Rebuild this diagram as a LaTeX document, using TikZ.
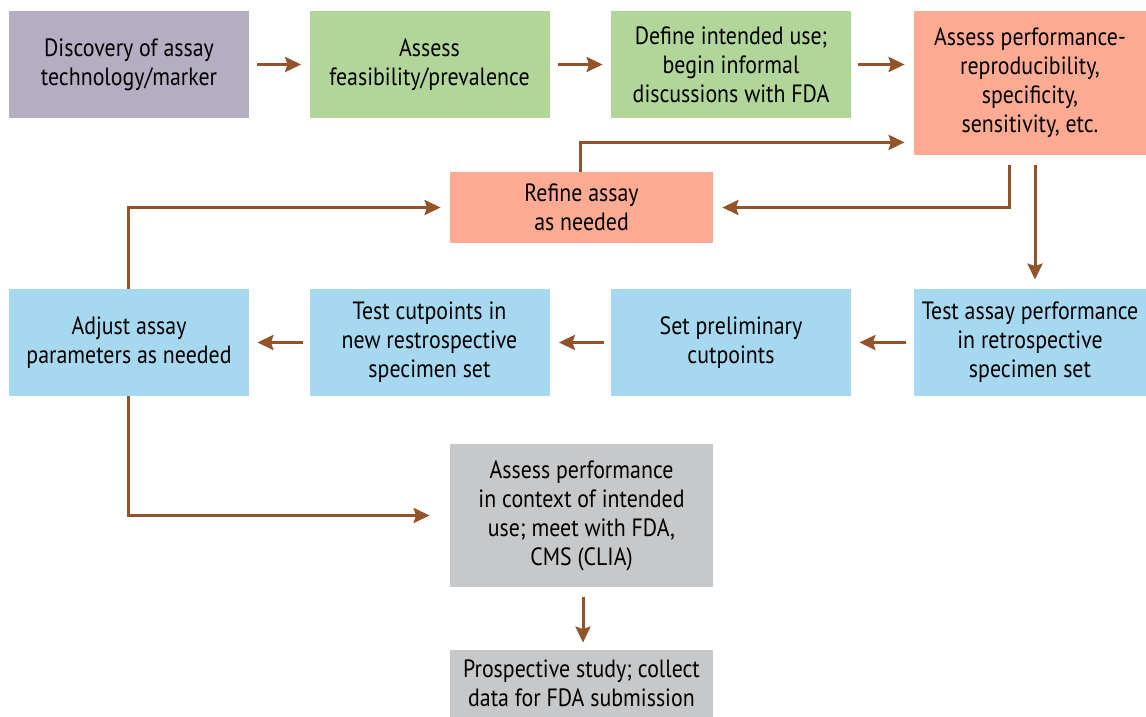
\documentclass[tikz,border=0pt]{standalone}
\usepackage{fontspec}
\setmainfont{PT Sans}[FakeStretch=0.875]
\usepackage{tikz}
\usetikzlibrary{arrows.meta,positioning}

\definecolor{discfill}{HTML}{B5AEC3}
\definecolor{feasfill}{HTML}{B2D69A}
\definecolor{perffill}{HTML}{FFAA93}
\definecolor{testfill}{HTML}{A6D8F0}
\definecolor{usefill}{HTML}{C7C8CA}
\definecolor{arrbrown}{HTML}{93542C}

\begin{document}
\begin{tikzpicture}[
  x=0.5pt, y=-0.5pt,
  box/.style={align=center, inner sep=3pt, minimum height=53.5pt,
    font=\fontsize{12.5pt}{14.5pt}\selectfont},
  wide/.style={box, minimum width=120pt},
  arr/.style={-{Stealth[length=8pt, width=7.5pt, inset=1.2pt]}, line width=1.5pt, color=arrbrown}
]
\useasboundingbox (0,0) rectangle (1146,717);

\node[wide, fill=discfill] (disc) at (129,64.5) {Discovery of assay\\technology/marker};
\node[wide, fill=feasfill] (feas) at (429.5,64.5) {Assess\\feasibility/prevalence};
\node[wide, fill=feasfill] (intd) at (731,64.5) {Define intended use;\\begin informal\\discussions with FDA};
\node[box, fill=perffill, minimum width=116pt, minimum height=72pt] (perf) at (1030,83) {Assess performance-\\reproducibility,\\specificity,\\sensitivity, etc.};
\node[box, fill=perffill, minimum width=131.5pt, minimum height=35.5pt] (refn) at (581.5,207.5) {Refine assay\\as needed};

\node[wide, fill=testfill] (adj) at (129,342.5) {Adjust assay\\parameters as needed};
\node[wide, fill=testfill] (cutn) at (429.5,342.5) {Test cutpoints in\\new restrospective\\specimen set};
\node[wide, fill=testfill] (prel) at (731,342.5) {Set preliminary\\cutpoints};
\node[box, fill=testfill, minimum width=116pt] (retr) at (1030,342.5) {Test assay performance\\in retrospective\\specimen set};

\node[box, fill=usefill, minimum width=131.5pt, minimum height=71.5pt] (ctx) at (581.5,515.5) {Assess performance\\in context of intended\\use; meet with FDA,\\CMS (CLIA)};
\node[box, fill=usefill, minimum width=131.5pt, minimum height=33.5pt] (pros) at (581.5,683.5) {Prospective study; collect\\data for FDA submission};

% top row
\draw[arr, shorten <=4pt, shorten >=4pt] (disc) -- (feas);
\draw[arr, shorten <=4pt, shorten >=4pt] (feas) -- (intd);
\draw[arr, shorten <=3.5pt, shorten >=4.5pt] (intd) -- (intd -| perf.west);

% refine loop
\draw[arr, shorten >=4.5pt] ([xshift=-0.75pt]refn.north) |- ([yshift=6.5pt]perf.south west);
\draw[arr, shorten >=4.5pt] ([xshift=-10.5pt,yshift=-5pt]perf.south) |- (refn.east);
\draw[arr, shorten >=4.5pt] ([xshift=2.5pt,yshift=-5pt]perf.south) -- ([xshift=2.5pt]retr.north);

% middle row
\draw[arr, shorten <=4pt, shorten >=4pt] (retr) -- (prel);
\draw[arr, shorten <=3.5pt, shorten >=4.5pt] (prel) -- (cutn);
\draw[arr, shorten <=3pt, shorten >=4pt] (cutn) -- (adj);
\draw[arr, shorten >=4.5pt] ([xshift=-0.5pt]adj.north) |- (refn.west);
\draw[arr, shorten >=10pt] ([xshift=-0.5pt]adj.south) |- (ctx.west);

% bottom
\draw[arr, shorten <=5pt, shorten >=3.5pt] ([xshift=0.75pt]ctx.south) -- ([xshift=0.75pt]pros.north);
\end{tikzpicture}
\end{document}
